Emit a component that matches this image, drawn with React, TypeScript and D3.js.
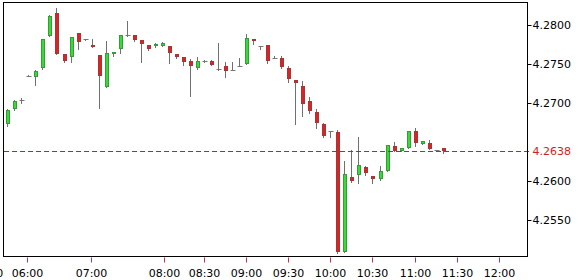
import React from "react";
import * as d3 from "d3";

const opens = [4.27167,4.26731,4.26923,4.27038,4.27346,4.27337,4.27445,4.27863,4.28150,4.27624,4.27586,4.27894,4.27817,4.27744,4.27612,4.27201,4.27628,4.27696,4.27878,4.27868,4.27804,4.27740,4.27731,4.27735,4.27727,4.27624,4.27586,4.27535,4.27445,4.27538,4.27535,4.27432,4.27471,4.27423,4.27478,4.27496,4.27817,4.27731,4.27740,4.27577,4.27583,4.27445,4.27292,4.27218,4.27023,4.26881,4.26737,4.26637,4.26632,4.25094,4.26047,4.26081,4.26183,4.26060,4.26022,4.26124,4.26453,4.26385,4.26419,4.26637,4.26470,4.26483,4.26397,4.26419];
const highs = [4.27192,4.26923,4.27038,4.27068,4.27353,4.27423,4.27821,4.28122,4.28214,4.27628,4.27846,4.27897,4.27820,4.27817,4.27615,4.27799,4.27660,4.27878,4.28051,4.27872,4.27808,4.27744,4.27769,4.27776,4.27731,4.27628,4.27590,4.27560,4.27594,4.27545,4.27551,4.27773,4.27522,4.27530,4.27573,4.27885,4.27821,4.27737,4.27744,4.27603,4.27603,4.27468,4.27295,4.27282,4.27071,4.26917,4.26744,4.26641,4.26654,4.26260,4.26397,4.26560,4.26188,4.26064,4.26196,4.26462,4.26504,4.26427,4.26645,4.26683,4.26517,4.26526,4.26401,4.26423];
const lows = [4.27077,4.26705,4.26910,4.27000,4.27340,4.27231,4.27436,4.27859,4.27622,4.27526,4.27530,4.27696,4.27814,4.27712,4.26932,4.27199,4.27603,4.27645,4.27865,4.27801,4.27530,4.27680,4.27724,4.27731,4.27517,4.27580,4.27487,4.27094,4.27442,4.27532,4.27481,4.27423,4.27330,4.27417,4.27474,4.27494,4.27753,4.27692,4.27517,4.27571,4.27453,4.27263,4.26731,4.26833,4.26872,4.26679,4.26570,4.26568,4.25083,4.25090,4.25990,4.25970,4.26077,4.25970,4.26019,4.26122,4.26381,4.26381,4.26417,4.26449,4.26468,4.26406,4.26393,4.26363];
const closes = [4.27167,4.26910,4.27026,4.27038,4.27346,4.27410,4.27817,4.28115,4.27628,4.27535,4.27842,4.27778,4.27817,4.27718,4.27342,4.27637,4.27654,4.27872,4.27878,4.27808,4.27760,4.27696,4.27760,4.27765,4.27637,4.27586,4.27522,4.27474,4.27535,4.27538,4.27487,4.27432,4.27410,4.27423,4.27478,4.27830,4.27795,4.27731,4.27542,4.27577,4.27465,4.27305,4.27256,4.26983,4.26897,4.26740,4.26577,4.26637,4.25086,4.26086,4.25996,4.26205,4.26099,4.26022,4.26132,4.26458,4.26385,4.26423,4.26641,4.26483,4.26513,4.26410,4.26397,4.26380];

const yTicks = [4.255, 4.26, 4.27, 4.275, 4.28];
const lastPrice = 4.2638;
const timeLabels = ["05:00","06:00","07:00","08:00","08:30","09:00","09:30","10:00","10:30","11:00","11:30","12:00"];
const timePositions = [-2.1,3.7,12.82,23.21,28.87,34.89,40.87,46.85,52.83,58.96,64.94,70.92];

const W = 588, H = 280;
const plotL = 3.5, plotR = 527.5, plotT = 2.5, plotB = 256.5;
const FONT = "'DejaVu Sans', Verdana, sans-serif";

export default function App() {
  const x = d3.scaleLinear().domain([0, 63]).range([1.3, 443.7]);
  const y = d3.scaleLinear().domain([4.255, 4.28]).range([220, 25]);
  const idx = d3.range(opens.length);
  const redFill = "#dc2222", redStroke = "#a83434";
  const greenFill = "#33dd33", greenStroke = "#3a9a3a";
  const wick = "#707070";
  const lastColor = "#d41c1c";
  const lpY = Math.round(y(lastPrice)) + 0.5;

  return (
    <svg width={W} height={H} style={{ position: "absolute", left: 0, top: 0, background: "#fff" }}>
      <defs>
        <clipPath id="plotclip">
          <rect x={plotL} y={plotT} width={plotR - plotL} height={plotB - plotT} />
        </clipPath>
      </defs>
      <rect x={0} y={0} width={W} height={H} fill="#fff" />
      <g clipPath="url(#plotclip)">
        {idx.map((i) => {
          const cx = Math.round(x(i));
          const o = opens[i], c = closes[i];
          const yo = y(o), yc = y(c);
          const top = Math.round(Math.min(yo, yc));
          const bot = Math.round(Math.max(yo, yc));
          const yh = Math.round(y(highs[i]));
          const yl = Math.round(y(lows[i]));
          const doji = bot - top < 1.5;
          const up = c > o;
          return (
            <g key={i}>
              <line x1={cx - 0.5} x2={cx - 0.5} y1={yh} y2={yl + 1} stroke={wick} strokeWidth={1} />
              {doji ? (
                <line x1={cx - 2.5} x2={cx + 2.5} y1={top + 0.5} y2={top + 0.5} stroke="#777" strokeWidth={1} />
              ) : (
                <rect x={cx - 1.5} y={top + 0.5} width={3} height={bot - top - 1}
                  fill={up ? greenFill : redFill} stroke={up ? greenStroke : redStroke} strokeWidth={1} />
              )}
            </g>
          );
        })}
      </g>
      {/* last price dashed line */}
      <line x1={plotL} x2={plotR + 4} y1={lpY} y2={lpY} stroke={lastColor} strokeWidth={1}
        strokeDasharray="5,3" shapeRendering="crispEdges" />
      {/* frame */}
      <rect x={plotL} y={plotT} width={plotR - plotL} height={plotB - plotT} fill="none" stroke="#000" strokeWidth={1} />
      {/* y axis */}
      {yTicks.map((v) => {
        const yy = Math.round(y(v)) + 0.5;
        return (
          <g key={v}>
            <line x1={plotR} x2={plotR + 4} y1={yy} y2={yy} stroke="#000" />
            <text x={plotR + 5} y={yy} dy="0.35em" fontFamily={FONT} fontSize={11} fill="#000">{v.toFixed(4)}</text>
          </g>
        );
      })}
      <text x={plotR + 5} y={lpY} dy="0.35em" fontFamily={FONT} fontSize={11} fill={lastColor}>{lastPrice.toFixed(4)}</text>
      {/* x axis */}
      {timeLabels.map((t, k) => {
        const xx = Math.round(x(timePositions[k])) + 0.5;
        return (
          <g key={t}>
            <line x1={xx} x2={xx} y1={plotB + 1} y2={plotB + 6} stroke="#c0305a" />
            <text x={xx} y={plotB + 17} dy="0.35em" textAnchor="middle" fontFamily={FONT} fontSize={11} fill="#000">{t}</text>
          </g>
        );
      })}
    </svg>
  );
}
